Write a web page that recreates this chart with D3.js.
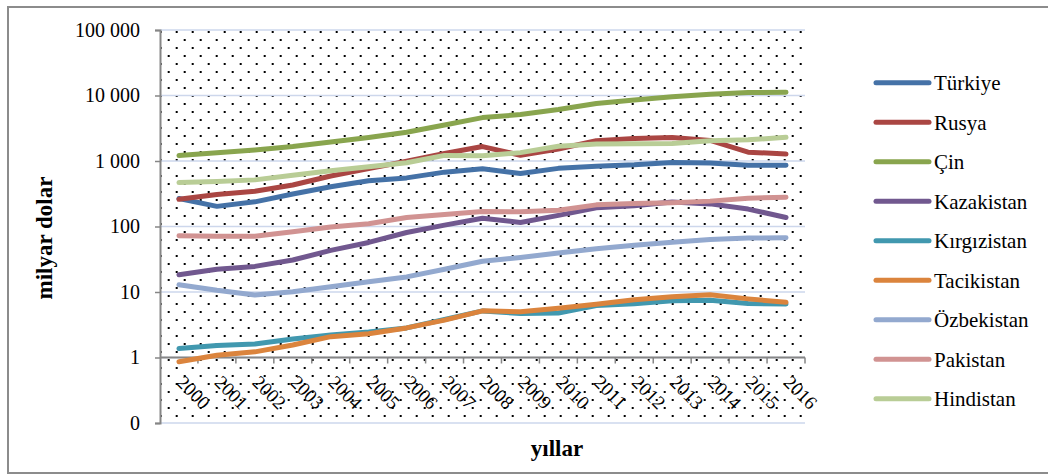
<!DOCTYPE html>
<html><head><meta charset="utf-8">
<script src="https://cdn.jsdelivr.net/npm/d3@7"></script>
<style>
html,body{margin:0;padding:0;background:#fff;}
svg{display:block;}
svg text{font-family:"Liberation Serif",serif;fill:#000;}
</style></head>
<body>
<svg id="chart" width="1048" height="475"></svg>
<script>
const years = [2000,2001,2002,2003,2004,2005,2006,2007,2008,2009,2010,2011,2012,2013,2014,2015,2016];
const seriesNames = ["Türkiye","Rusya","Çin","Kazakistan","Kırgızistan","Tacikistan","Özbekistan","Pakistan","Hindistan"];
const turkiye    = [268, 203, 238, 314, 405, 501, 552, 676, 764, 644, 772, 832, 874, 950, 934, 859, 863];
const rusya      = [260, 307, 345, 430, 591, 764, 990, 1300, 1661, 1223, 1525, 2046, 2208, 2293, 2059, 1363, 1277];
const cin        = [1211, 1339, 1471, 1660, 1955, 2286, 2752, 3552, 4598, 5110, 6101, 7573, 8561, 9607, 10482, 11065, 11191];
const kazakistan = [18.3, 22.2, 24.6, 30.8, 43.2, 57.1, 81.0, 104.8, 133.4, 115.3, 148.0, 192.6, 208.0, 236.6, 221.4, 184.4, 137.3];
const kirgizistan= [1.37, 1.53, 1.61, 1.92, 2.21, 2.46, 2.83, 3.80, 5.14, 4.69, 4.79, 6.20, 6.61, 7.34, 7.47, 6.68, 6.55];
const tacikistan = [0.86, 1.08, 1.22, 1.55, 2.08, 2.31, 2.83, 3.72, 5.16, 4.98, 5.64, 6.52, 7.63, 8.45, 9.11, 7.85, 6.95];
const ozbekistan = [12.9, 10.6, 9.0, 10.1, 12.0, 14.3, 17.0, 22.3, 29.5, 33.7, 39.3, 45.9, 51.8, 57.7, 63.1, 66.9, 67.2];
const pakistan   = [72, 71, 71, 83, 98, 110, 137, 152, 170, 168, 177, 214, 224, 231, 244, 271, 279];
const hindistan  = [468, 485, 515, 608, 709, 820, 940, 1217, 1199, 1342, 1676, 1823, 1828, 1857, 2039, 2104, 2295];
const seriesColors = ["#4572A7","#AA4643","#89A54E","#71588F","#4198AF","#DB843D","#93A9CF","#D19392","#B9CD96"];
const yTickValues = [0.1, 1, 10, 100, 1000, 10000, 100000];
const yTitle = "milyar dolar";
const xTitle = "yıllar";

const seriesValues = [turkiye, rusya, cin, kazakistan, kirgizistan, tacikistan, ozbekistan, pakistan, hindistan];
const FONT = "'Liberation Serif', serif";

const svg = d3.select("#chart").style("font-family", FONT);
const L = 160, R = 805, T = 30, B = 423;

// outer frame
svg.append("rect").attr("x",8).attr("y",7).attr("width",1060).attr("height",466)
  .attr("fill","#fff").attr("stroke","#8c8c8c").attr("stroke-width",2);

// dot pattern
const defs = svg.append("defs");
const pat = defs.append("pattern").attr("id","dots").attr("patternUnits","userSpaceOnUse")
  .attr("x",159.7).attr("y",31).attr("width",16).attr("height",16);
pat.append("rect").attr("x",0).attr("y",0).attr("width",2).attr("height",2).attr("fill","#000");
pat.append("rect").attr("x",8).attr("y",8).attr("width",2).attr("height",2).attr("fill","#000");

svg.append("rect").attr("x",L).attr("y",T).attr("width",R-L).attr("height",B-T).attr("fill","url(#dots)");

const x = d3.scaleBand().domain(years).range([L, R]).padding(0);
const y = d3.scaleLog().domain([0.1, 100000]).range([B, T]);
const cx = d => x(d) + x.bandwidth()/2;

// gridlines
svg.append("g").selectAll("line").data(yTickValues).join("line")
  .attr("x1",L).attr("x2",R).attr("y1",d=>y(d)).attr("y2",d=>y(d))
  .attr("stroke","#cdd7ec").attr("stroke-width",1.5);

// y axis
const fmt = v => v < 1 ? "0" : d3.format(",")(v).replace(/,/g," ");
const yAxis = svg.append("g").attr("transform",`translate(${L},0)`)
  .call(d3.axisLeft(y).tickValues(yTickValues).tickFormat(fmt).tickSize(5).tickPadding(15));
yAxis.attr("font-family", FONT);
yAxis.select(".domain").attr("stroke","#868686").attr("stroke-width",2);
yAxis.selectAll(".tick line").attr("stroke","#868686").attr("stroke-width",1.5);
yAxis.selectAll(".tick text").attr("font-size",20).style("font-family", FONT).attr("dy","0.32em");

// x axis at y=1
const xa = svg.append("g");
xa.append("line").attr("x1",L).attr("x2",R).attr("y1",y(1)).attr("y2",y(1))
  .attr("stroke","#868686").attr("stroke-width",2);
const bounds = years.map(d => x(d)).concat([R]).slice(1);
xa.selectAll("line.tk").data(bounds).join("line").attr("class","tk")
  .attr("x1",d=>d).attr("x2",d=>d).attr("y1",y(1)).attr("y2",y(1)+6)
  .attr("stroke","#868686").attr("stroke-width",1.5);
xa.selectAll("text").data(years).join("text")
  .attr("transform",d=>`translate(${cx(d)-3.5},${y(1)+26}) rotate(45)`)
  .style("font-family", FONT).attr("font-size",19).text(d=>d);

// series lines
const line = d3.line().x((d,i)=>cx(years[i])).y(d=>y(d));
svg.append("g").selectAll("path").data(seriesValues).join("path")
  .attr("d",d=>line(d)).attr("fill","none")
  .attr("stroke",(d,i)=>seriesColors[i]).attr("stroke-width",5)
  .attr("stroke-linejoin","round").attr("stroke-linecap","round");

// axis titles
svg.append("text").attr("transform","translate(52,238) rotate(-90)")
  .attr("text-anchor","middle").style("font-family", FONT).style("font-weight","bold")
  .attr("font-size",23).text(yTitle);
svg.append("text").attr("x",557).attr("y",456)
  .attr("text-anchor","middle").style("font-family", FONT).style("font-weight","bold")
  .attr("font-size",23).text(xTitle);

// legend
const lg = svg.append("g").selectAll("g").data(seriesNames).join("g")
  .attr("transform",(d,i)=>`translate(0,${82.7 + i*39.5})`);
lg.append("line").attr("x1",876).attr("x2",929).attr("y1",0).attr("y2",0)
  .attr("stroke",(d,i)=>seriesColors[i]).attr("stroke-width",5).attr("stroke-linecap","round");
lg.append("text").attr("x",934).attr("y",7.5).style("font-family", FONT).attr("font-size",21).text(d=>d);
</script>
</body></html>
